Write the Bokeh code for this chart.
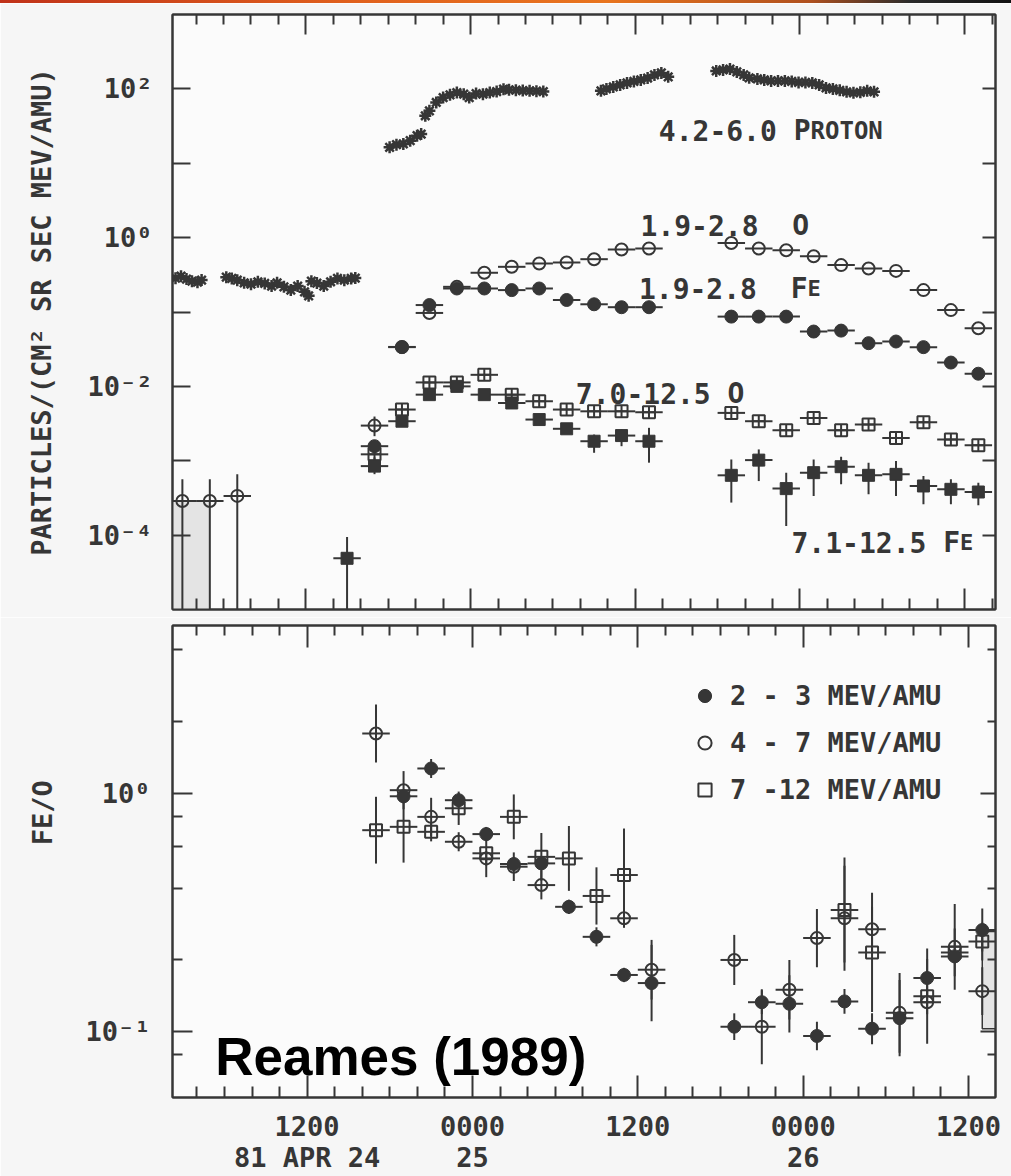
import math
import re
from bokeh.plotting import figure
from bokeh.models import (FixedTicker, LinearAxis, LogAxis, Label, Range1d,
                          Div, Legend, LegendItem, BasicTickFormatter)
from bokeh.layouts import column
from bokeh.embed import file_html
from bokeh.resources import INLINE

# ------------------------------------------------------------------
# DATA  (time = hours after 0000 UT, 1981 April 24)
# ------------------------------------------------------------------
proton_hours = [2.5, 2.9, 3.3, 3.7, 4.1, 4.4,
                6.2, 6.6, 7.0, 7.5, 8.0, 8.5, 9.0, 9.5, 9.9, 10.4, 10.9, 11.4, 11.9, 12.2, 12.4,
                12.8, 13.3, 13.8, 14.3, 14.8, 15.3, 15.6,
                18.1, 18.6, 19.1, 19.6, 20.1, 20.4,
                20.7, 21.0, 21.5, 22.0, 22.5, 23.0, 23.5, 23.9, 24.4, 24.9, 25.4, 25.9, 26.4,
                26.8, 27.3, 27.8, 28.3, 28.8, 29.3,
                33.5, 33.9, 34.4, 34.9, 35.4, 35.9, 36.4, 36.9, 37.4, 37.9, 38.4,
                41.9, 42.4, 42.9, 43.4, 43.9, 44.3,
                44.9, 45.4, 45.9, 46.4, 46.9, 47.4, 47.9, 48.4, 48.9, 49.4, 49.9, 50.4, 50.9,
                51.4, 51.9, 52.4, 52.9, 53.4]
proton_flux = [0.285, 0.303, 0.277, 0.260, 0.252, 0.269,
               0.294, 0.283, 0.268, 0.247, 0.237, 0.255, 0.242, 0.223, 0.247, 0.218, 0.197, 0.223,
               0.187, 0.165, 0.26, 0.245, 0.223, 0.255, 0.283, 0.268, 0.283, 0.286,
               16.4, 17.8, 18.2, 20.1, 23.5, 24.7,
               43.5, 50.7, 65.6, 76.4, 83.1, 89.2, 84.9, 76.4, 86.5, 84.9, 89.2, 92.0, 99.1,
               97.0, 96.1, 95.0, 94.0, 93.0, 92.0,
               94, 100, 106, 113, 120, 126, 132, 140, 154, 164, 145,
               174, 180, 185, 169, 154, 141,
               136, 132, 128, 128, 128, 126, 122, 122, 120, 113, 103, 100, 95.5,
               91.2, 88.4, 89.8, 94.0, 91.2]

bins_top = [17, 19, 21, 23, 25, 27, 29, 31, 33, 35, 37, 43, 45, 47, 49, 51, 53, 55, 57, 59, 61]
o_low_flux = [2.97e-3, 0.0339, 0.0971, 0.218, 0.337, 0.405, 0.449, 0.463, 0.513, 0.692, 0.713,
              0.847, 0.713, 0.676, 0.562, 0.427, 0.385, 0.357, 0.197, 0.106, 0.0605]
fe_low_flux = [1.57e-3, 0.0337, 0.124, 0.207, 0.207, 0.197, 0.207, 0.145, 0.127, 0.116, 0.116,
               0.0867, 0.0867, 0.0867, 0.0546, 0.0562, 0.0381, 0.0401, 0.0337, 0.0209, 0.0148]
o_high_flux = [1.22e-3, 4.88e-3, 0.0113, 0.0113, 0.0143, 7.74e-3, 6.31e-3, 4.88e-3, 4.62e-3,
               4.62e-3, 4.49e-3, 4.40e-3, 3.40e-3, 2.57e-3, 3.77e-3, 2.57e-3, 3.07e-3, 2.03e-3,
               3.30e-3, 1.93e-3, 1.61e-3]
fe_high_hours = [15, 17, 19, 21, 23, 25, 27, 29, 31, 33, 35, 37, 43, 45, 47, 49, 51, 53, 55, 57, 59, 61]
fe_high_flux = [4.88e-5, 8.47e-4, 3.40e-3, 7.74e-3, 0.0100, 7.74e-3, 5.98e-3, 3.58e-3, 2.69e-3,
                1.83e-3, 2.18e-3, 1.83e-3, 6.37e-4, 1.02e-3, 4.22e-4, 6.92e-4, 8.32e-4, 6.37e-4,
                6.56e-4, 4.58e-4, 4.13e-4, 3.80e-4]
fe_high_hi = [9.4e-5, 1.11e-3, 3.9e-3, 8.6e-3, 0.011, 8.6e-3, 6.6e-3, 4.0e-3, 3.0e-3, 2.25e-3,
              2.63e-3, 2.77e-3, 1.04e-3, 1.42e-3, 6.92e-4, 1.04e-3, 1.13e-3, 9.42e-4, 9.93e-4,
              6.22e-4, 5.62e-4, 5.08e-4]
fe_high_lo = [1.0e-5, 6.6e-4, 3.0e-3, 7.0e-3, 9.1e-3, 7.0e-3, 5.4e-3, 3.2e-3, 2.4e-3, 1.28e-3,
              1.57e-3, 9.42e-4, 2.74e-4, 5.33e-4, 1.33e-4, 3.37e-4, 4.82e-4, 3.54e-4, 3.37e-4,
              2.61e-4, 2.61e-4, 2.52e-4]
o_low_bar_hours = [17]
o_low_bar_hi = [3.93e-3]
o_low_bar_lo = [2.14e-3]
early_hours = [3, 5, 7]
early_flux = [2.88e-4, 2.88e-4, 3.37e-4]
early_hi = [5.62e-4, 5.62e-4, 6.56e-4]
early_lo = [1.0e-5, 1.0e-5, 1.0e-5]
early_shade_end = 5.0

ratio_bins_23 = [19, 21, 23, 25, 27, 29, 31, 33, 35, 37, 43, 45, 47, 49, 51, 53, 55, 57, 59, 61]
ratio_23 = [0.971, 1.27, 0.935, 0.674, 0.505, 0.508, 0.334, 0.250, 0.173, 0.160, 0.105, 0.133,
            0.131, 0.096, 0.134, 0.103, 0.114, 0.168, 0.207, 0.267]
ratio_23_dlog = [0.03, 0.04, 0.03, 0.03, 0.03, 0.03, 0.03, 0.04, 0.03, 0.16, 0.056, 0.05, 0.12,
                 0.06, 0.052, 0.065, 0.16, 0.08, 0.03, 0.09]
ratio_bins_47 = [17, 19, 21, 23, 25, 27, 29, 35, 37, 43, 45, 47, 49, 51, 53, 55, 57, 59, 61]
ratio_47 = [1.78, 1.03, 0.796, 0.626, 0.533, 0.492, 0.412, 0.299, 0.182, 0.200, 0.105, 0.150,
            0.247, 0.299, 0.269, 0.120, 0.133, 0.227, 0.148]
ratio_47_dlog = [0.122, 0.08, 0.08, 0.04, 0.03, 0.06, 0.06, 0.04, 0.125, 0.105, 0.157, 0.125,
                 0.122, 0.22, 0.095, 0.167, 0.05, 0.18, 0.1]
ratio_bins_712 = [17, 19, 21, 23, 25, 27, 29, 31, 33, 35, 51, 53, 57, 59, 61]
ratio_712 = [0.700, 0.723, 0.689, 0.865, 0.560, 0.796, 0.541, 0.533, 0.371, 0.454, 0.324, 0.215,
             0.141, 0.215, 0.239]
ratio_712_dlog = [0.14, 0.15, 0.04, 0.07, 0.10, 0.094, 0.10, 0.136, 0.12, 0.195, 0.22, 0.25,
                  0.20, 0.10, 0.08]
ratio_shade = [61.0, 0.103, 0.263]   # start hour, bottom, top

bin_half_width = 1.0
x_major = [12, 24, 36, 48, 60]
x_major_text = ["1200\n81 APR 24", "0000\n25", "1200", "0000\n26", "1200"]
top_y_ticks = [1e-4, 1e-3, 1e-2, 1e-1, 1.0, 10.0, 100.0]
top_y_text = ["10\u207b\u2074", "", "10\u207b\u00b2", "", "10\u2070", "", "10\u00b2"]
bot_y_ticks = [0.1, 1.0]
bot_y_minor = [0.08, 0.2, 0.4, 0.6, 0.8, 2, 4]
bot_y_text = ["10\u207b\u00b9", "10\u2070"]
top_y_title = "PARTICLES/(CM\u00b2 SR SEC MEV/AMU)"
bot_y_title = "FE/O"
legend_labels = ["2 - 3 MEV/AMU", "4 - 7 MEV/AMU", "7 -12 MEV/AMU"]

# ------------------------------------------------------------------
# LAYOUT / STYLE
# ------------------------------------------------------------------
INK = "#363636"
MONO = "DejaVu Sans Mono"
ADV = 0.602
PAPER = "#f6f6f6"
INSIDE = "#fbfbfb"

T_X = (2.28, 62.25); T_LEFT = 168; T_W = 827
T_Y = (1e-5, 1e3); T_TOP = 14; T_H = 595
B_X = (2.23, 61.96); B_LEFT = 172; B_W = 829
B_Y = (0.053, 5.05); B_TOP = 625; B_H = 473


def mk_x(x0, x1, left, w):
    return lambda px: x0 + (px - left) * (x1 - x0) / w


def mk_y(y0, y1, top, h):
    lo, hi = math.log10(y0), math.log10(y1)
    return lambda py: 10 ** (hi - (py - top) * (hi - lo) / h)


top_x = mk_x(T_X[0], T_X[1], T_LEFT, T_W)
top_y = mk_y(T_Y[0], T_Y[1], T_TOP, T_H)
bot_x = mk_x(B_X[0], B_X[1], B_LEFT, B_W)
bot_y = mk_y(B_Y[0], B_Y[1], B_TOP, B_H)


def add_text(p, x, y, text, size, align="left", baseline="alphabetic", font=MONO,
             style="bold", color=INK, x_offset=0):
    p.add_layout(Label(x=x, y=y, text=text, text_font=font, text_font_size=f"{int(size)}px",
                       text_font_style=style, text_color=color, text_align=align,
                       text_baseline=baseline, x_offset=round(x_offset, 1)))


def add_caps(p, x, y, parts):
    """monospace text made of pieces of different size (small capitals)"""
    off = 0.0
    for t, s in parts:
        adv = ADV * s
        for m in re.finditer(r"\S+", t):
            add_text(p, x, y, m.group(), s, x_offset=off + m.start() * adv)
        off += len(t) * adv


def style_axis(ax, major_in, minor_in):
    ax.major_tick_in = major_in
    ax.major_tick_out = 0
    ax.minor_tick_in = minor_in
    ax.minor_tick_out = 0
    ax.major_tick_line_color = INK
    ax.minor_tick_line_color = INK
    ax.major_tick_line_width = 2
    ax.minor_tick_line_width = 2
    ax.axis_line_color = INK
    ax.axis_line_width = 2
    ax.major_label_text_font_size = "2px"
    ax.major_label_text_color = None
    ax.major_label_standoff = 0


def show_labels(ax, overrides, size, standoff):
    ax.major_label_overrides = overrides
    ax.major_label_text_font = MONO
    ax.major_label_text_font_size = f"{size}px"
    ax.major_label_text_font_style = "bold"
    ax.major_label_text_color = INK
    ax.major_label_standoff = standoff


def set_title(ax, text, standoff):
    ax.axis_label = text
    ax.axis_label_text_font = MONO
    ax.axis_label_text_font_size = "27px"
    ax.axis_label_text_font_style = "bold"
    ax.axis_label_text_color = INK
    ax.axis_label_standoff = standoff


def make_fig(xr, yr, left, right, top, bottom, height):
    p = figure(width=1011, height=height, x_range=Range1d(*xr), y_range=Range1d(*yr),
               y_axis_type="log", x_axis_location=None, y_axis_location=None,
               output_backend="svg", toolbar_location=None,
               min_border_left=left, min_border_right=right,
               min_border_top=top, min_border_bottom=bottom)
    p.background_fill_color = INSIDE
    p.border_fill_color = PAPER
    p.outline_line_color = INK
    p.outline_line_width = 2
    for g in p.grid:
        g.visible = False
    return p


x_minor = [h for h in range(2, 64, 2) if h % 12 != 0]
seg = dict(line_color=INK, line_width=2)


def hbars(p, xs, ys):
    p.segment(x0=[x - bin_half_width for x in xs], x1=[x + bin_half_width for x in xs],
              y0=ys, y1=ys, **seg)


def vbars(p, xs, lo, hi):
    p.segment(x0=xs, x1=xs, y0=lo, y1=hi, **seg)


# ------------------------------------------------------------------
# TOP PANEL : intensities
# ------------------------------------------------------------------
p1 = make_fig(T_X, T_Y, T_LEFT, 1011 - T_LEFT - T_W, 11, 8, 614)
for loc, mj, mn in (("below", 21, 11), ("above", 20, 10)):
    ax = LinearAxis(ticker=FixedTicker(ticks=x_major, minor_ticks=x_minor),
                    formatter=BasicTickFormatter())
    style_axis(ax, mj, mn)
    p1.add_layout(ax, loc)
for loc, mj in (("left", 18), ("right", 13)):
    ax = LogAxis(ticker=FixedTicker(ticks=top_y_ticks, minor_ticks=[]),
                 formatter=BasicTickFormatter())
    style_axis(ax, mj, 0)
    if loc == "left":
        show_labels(ax, dict(zip(top_y_ticks, top_y_text)), 27, 20)
        set_title(ax, top_y_title, 27)
    p1.add_layout(ax, loc)

p1.quad(left=[T_X[0]], right=[early_shade_end], bottom=[T_Y[0]], top=[early_flux[0]],
        fill_color="#e4e4e4", line_color=None)

hbars(p1, bins_top, o_low_flux)
hbars(p1, bins_top, fe_low_flux)
hbars(p1, bins_top, o_high_flux)
hbars(p1, fe_high_hours, fe_high_flux)
hbars(p1, early_hours, early_flux)
vbars(p1, fe_high_hours, fe_high_lo, fe_high_hi)
vbars(p1, o_low_bar_hours, o_low_bar_lo, o_low_bar_hi)
vbars(p1, early_hours, early_lo, early_hi)

p1.scatter(proton_hours, proton_flux, marker="asterisk", size=12, line_color=INK, line_width=2.5)
p1.scatter(early_hours, early_flux, marker="circle", size=12, fill_color=None, line_color=INK, line_width=2)
p1.scatter(bins_top, o_low_flux, marker="circle", size=12, fill_color=None, line_color=INK, line_width=2)
p1.scatter(bins_top, o_high_flux, marker="square_cross", size=12, fill_color=None, line_color=INK, line_width=2)
p1.scatter(bins_top, fe_low_flux, marker="circle", size=13, fill_color=INK, line_color=INK)
p1.scatter(fe_high_hours, fe_high_flux, marker="square", size=12, fill_color=INK, line_color=INK)

add_caps(p1, top_x(656.7), top_y(130), [("4.2-6.0 P", 28), ("ROTON", 24)])
add_caps(p1, top_x(638.3), top_y(225), [("1.9-2.8  O", 28)])
add_caps(p1, top_x(636.7), top_y(288.3), [("1.9-2.8  F", 28), ("E", 22)])
add_caps(p1, top_x(573.3), top_y(393.3), [("7.0-12.5 O", 28)])
add_caps(p1, top_x(790), top_y(541.7), [("7.1-12.5 F", 28), ("E", 22)])

# ------------------------------------------------------------------
# BOTTOM PANEL : Fe/O ratios
# ------------------------------------------------------------------
p2 = make_fig(B_X, B_Y, B_LEFT, 1011 - B_LEFT - B_W, 8, 1176 - 3 - 614 - 8 - B_H, 1176 - 3 - 614)
for loc, mj, mn in (("below", 22, 11), ("above", 22, 10)):
    ax = LinearAxis(ticker=FixedTicker(ticks=x_major, minor_ticks=x_minor),
                    formatter=BasicTickFormatter())
    style_axis(ax, mj, mn)
    if loc == "below":
        show_labels(ax, dict(zip(x_major, x_major_text)), 27, 13)
        ax.major_label_text_line_height = 1.02
    p2.add_layout(ax, loc)
for loc, mj, mn in (("left", 20, 10), ("right", 15, 8)):
    ax = LogAxis(ticker=FixedTicker(ticks=bot_y_ticks, minor_ticks=bot_y_minor),
                 formatter=BasicTickFormatter())
    style_axis(ax, mj, mn)
    if loc == "left":
        show_labels(ax, dict(zip(bot_y_ticks, bot_y_text)), 27, 22)
        set_title(ax, "\u00a0" * 6 + bot_y_title, 24)
    p2.add_layout(ax, loc)

p2.quad(left=[ratio_shade[0]], right=[B_X[1]], bottom=[ratio_shade[1]], top=[ratio_shade[2]],
        fill_color="#e4e4e4", line_color=INK, line_width=1.5)

for hs, vs, ds in ((ratio_bins_47, ratio_47, ratio_47_dlog),
                   (ratio_bins_712, ratio_712, ratio_712_dlog),
                   (ratio_bins_23, ratio_23, ratio_23_dlog)):
    hbars(p2, hs, vs)
    vbars(p2, hs, [v / 10 ** d for v, d in zip(vs, ds)], [v * 10 ** d for v, d in zip(vs, ds)])

r47 = p2.scatter(ratio_bins_47, ratio_47, marker="circle", size=12, fill_color=None, line_color=INK, line_width=2)
r712 = p2.scatter(ratio_bins_712, ratio_712, marker="square", size=12, fill_color=None, line_color=INK, line_width=2)
r23 = p2.scatter(ratio_bins_23, ratio_23, marker="circle", size=13, fill_color=INK, line_color=INK)

legend = Legend(items=[LegendItem(label=legend_labels[0], renderers=[r23]),
                       LegendItem(label=legend_labels[1], renderers=[r47]),
                       LegendItem(label=legend_labels[2], renderers=[r712])],
                location=(516, 291), orientation="vertical",
                glyph_width=33, glyph_height=33, label_height=33, label_standoff=9,
                spacing=14, padding=0, margin=0,
                label_text_font=MONO, label_text_font_size="27px", label_text_font_style="bold",
                label_text_color=INK, background_fill_alpha=0, border_line_color=None)
p2.add_layout(legend)

add_text(p2, bot_x(215), bot_y(1057), "Reames (1989)", 53, font="Liberation Sans", color="#000000")

strip = Div(text="", width=1011, height=3, margin=(0, 0, 0, 0),
            styles={"background": "linear-gradient(90deg, #c0321a 0%, #e0601c 35%, #e8741e 60%, "
                                  "#b0501e 80%, #2a2a2a 90%, #111111 100%)"})

layout = column(strip, p1, p2, spacing=0)
open("out.html", "w").write(file_html(layout, INLINE))
